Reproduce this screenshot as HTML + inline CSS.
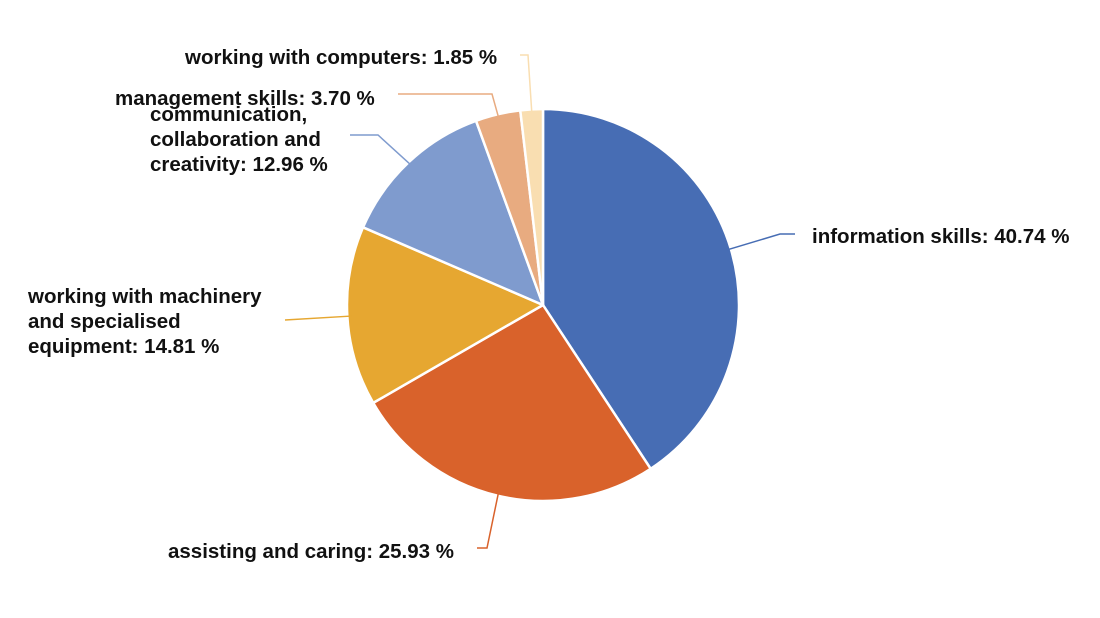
<!DOCTYPE html>
<html><head><meta charset="utf-8">
<style>
html,body{margin:0;padding:0;background:#fff;width:1100px;height:618px;overflow:hidden}
svg text{font-family:"Liberation Sans",Arial,sans-serif;font-weight:bold;font-size:20.5px;fill:#111}
</style></head>
<body>
<svg id="chart" width="1100" height="618" viewBox="0 0 1100 618" xmlns="http://www.w3.org/2000/svg"></svg>
<script>
const categories=["information skills","assisting and caring","working with machinery and specialised equipment","communication, collaboration and creativity","management skills","working with computers"];
const values=[40.74,25.93,14.81,12.96,3.70,1.85];
const valueLabels=["40.74 %","25.93 %","14.81 %","12.96 %","3.70 %","1.85 %"];
const colors=["#476db4","#d9622b","#e6a731","#7f9bce","#e8ab80","#f9deb1"];
const labelLines=[["information skills: 40.74 %"],["assisting and caring: 25.93 %"],["working with machinery","and specialised","equipment: 14.81 %"],["communication,","collaboration and","creativity: 12.96 %"],["management skills: 3.70 %"],["working with computers: 1.85 %"]];
const labelPos=[[812,243,"start"],[168,558,"start"],[28,303,"start"],[150,121,"start"],[115,105,"start"],[185,64,"start"]];
const leaderEnd=[[795,234],[477,548],[285,320],[350,135],[398,94],[520,55]];
const leaderKnee=[[780,234],[487,548],[285,320],[378,135],[492,94],[528,55]];
const svg=document.getElementById('chart');
const NS="http://www.w3.org/2000/svg";
const cx=543,cy=305,r=196;
const total=values.reduce((a,b)=>a+b,0);
function pt(a,rad){return [cx+rad*Math.sin(a),cy-rad*Math.cos(a)];}
let a0=0;
values.forEach((v,i)=>{
  const a1=a0+v/total*2*Math.PI;
  const p0=pt(a0,r),p1=pt(a1,r);
  const large=(a1-a0)>Math.PI?1:0;
  const path=document.createElementNS(NS,'path');
  path.setAttribute('d',`M${cx},${cy}L${p0[0]},${p0[1]}A${r},${r} 0 ${large} 1 ${p1[0]},${p1[1]}Z`);
  path.setAttribute('fill',colors[i]);
  path.setAttribute('stroke','#fff');
  path.setAttribute('stroke-width','2.5');
  path.setAttribute('stroke-linejoin','round');
  
  
  svg.appendChild(path);
  const mid=(a0+a1)/2;
  const e=pt(mid,r-4);
  const line=document.createElementNS(NS,'polyline');
  line.setAttribute('points',`${e[0]},${e[1]} ${leaderKnee[i][0]},${leaderKnee[i][1]} ${leaderEnd[i][0]},${leaderEnd[i][1]}`);
  line.setAttribute('fill','none');
  line.setAttribute('stroke',colors[i]);
  line.setAttribute('stroke-width','1.5');
  
  
  svg.appendChild(line);
  const t=document.createElementNS(NS,'text');
  t.setAttribute('x',labelPos[i][0]);
  t.setAttribute('y',labelPos[i][1]);
  t.setAttribute('text-anchor',labelPos[i][2]);
  
  
  labelLines[i].forEach((s,k)=>{
    const ts=document.createElementNS(NS,'tspan');
    ts.setAttribute('x',labelPos[i][0]);
    ts.setAttribute('dy',k===0?0:25);
    ts.textContent=s;
    t.appendChild(ts);
  });
  svg.appendChild(t);
  a0=a1;
});
</script>
</body></html>
